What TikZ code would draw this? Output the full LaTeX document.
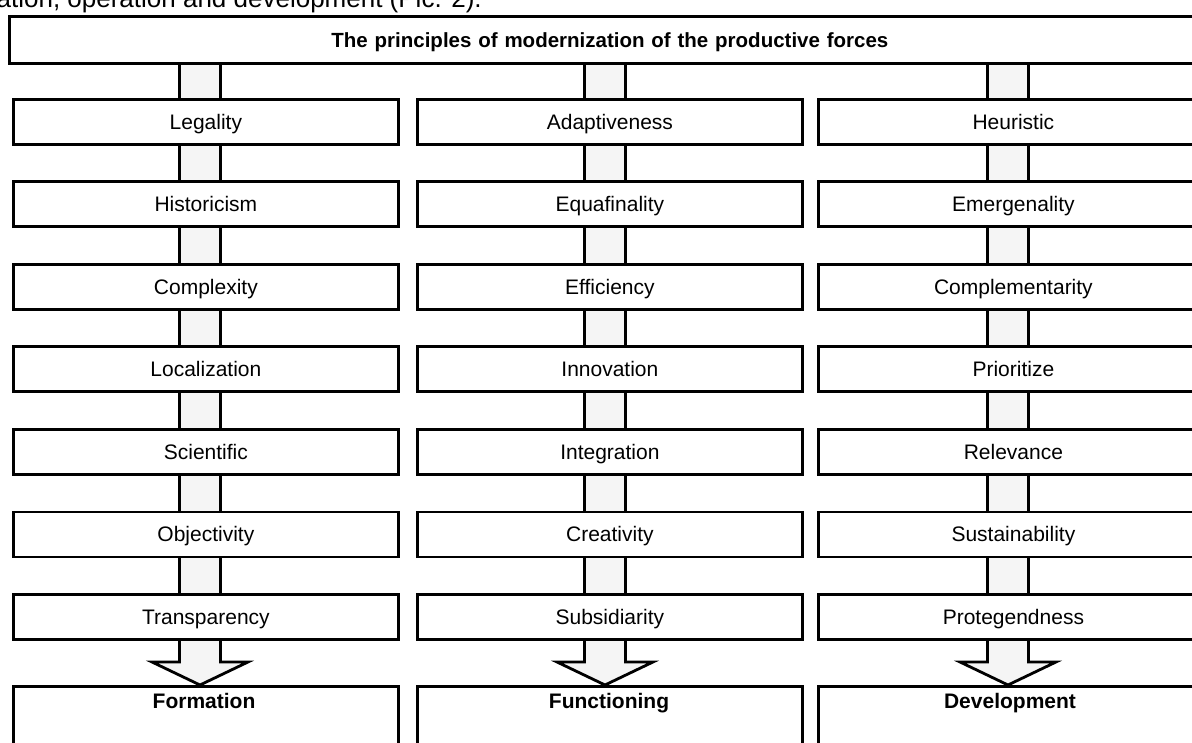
\documentclass[tikz,border=0pt]{standalone}
\usepackage{fontspec}
\setmainfont{Liberation Sans}
\usetikzlibrary{calc}
\begin{document}
\begin{tikzpicture}[x=1pt,y=-1pt,
  pbox/.style={draw, line width=2.8pt, fill=white, minimum width=385pt, minimum height=45pt,
    inner sep=0pt, anchor=north west, text height=15pt, text depth=0pt,
    font=\fontsize{21}{25}\selectfont},
  titlebox/.style={pbox, minimum width=1210pt, minimum height=47pt, font=\fontsize{20.5}{25}\selectfont\bfseries},
  endbox/.style={pbox, minimum height=110pt},
  endlabel/.style={anchor=base, inner sep=0pt, font=\fontsize{21}{25}\selectfont\bfseries},
  shaft/.style={draw, line width=2.8pt, fill=black!4, line join=miter}
]
\clip (0,0) rectangle (1192,743);
\fill[white] (0,0) rectangle (1192,743);

% cut-off caption line at the top
\node[anchor=base east, inner sep=0pt, font=\fontsize{26}{30}\selectfont] (cap) at (482,8) {ation, operation and development (Pic. 2).};

% shaft centres
\foreach \n/\c in {a/200, b/605, c/1008}{
  \coordinate (s\n top) at (\c,62);
  \coordinate (s\n tip) at (\c,685);
  \draw[shaft] ($(s\n top)+(-20.5,0)$) -- ($(s\n tip)+(-20.5,-23)$) -- ($(s\n tip)+(-48,-23)$)
     -- (s\n tip) -- ($(s\n tip)+(48,-23)$) -- ($(s\n tip)+(20.5,-23)$) -- ($(s\n top)+(20.5,0)$) -- cycle;
}

% title box
\node[titlebox, text width=1202pt, align=left] (title) at (8,15) {\hspace*{318pt}The principles of modernization of the productive forces};

% columns
\foreach \i/\ta/\tb/\tc in {0/Legality/Adaptiveness/Heuristic,
                            1/Historicism/Equafinality/Emergenality,
                            2/Complexity/Efficiency/Complementarity,
                            3/Localization/Innovation/Prioritize,
                            4/Scientific/Integration/Relevance,
                            5/Objectivity/Creativity/Sustainability,
                            6/Transparency/Subsidiarity/Protegendness}{
  \node[pbox] (a\i) at (12, 98+82.5*\i) {\ta};
  \node[pbox] (b\i) at (416, 98+82.5*\i) {\tb};
  \node[pbox, minimum width=390pt] (c\i) at (817, 98+82.5*\i) {\tc};
}

% end boxes
\node[endbox] (fa) at (12,685) {};
\node[endbox] (fb) at (416,685) {};
\node[endbox, minimum width=390pt] (fc) at (817,685) {};
\node[endlabel] (la) at (204,708) {Formation};
\node[endlabel] (lb) at (609,708) {Functioning};
\node[endlabel] (lc) at (1010,708) {Development};
\end{tikzpicture}
\end{document}
